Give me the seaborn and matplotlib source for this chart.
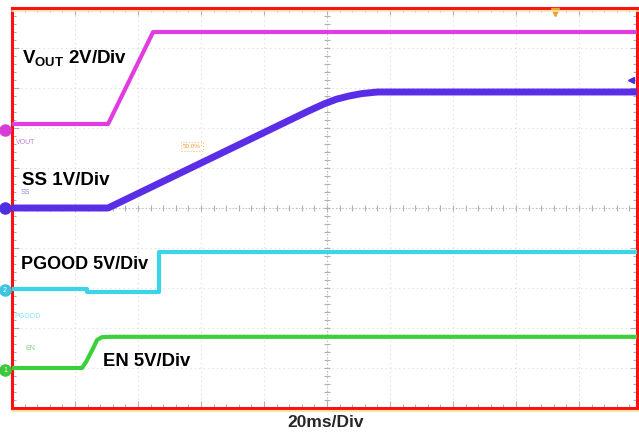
import numpy as np
import pandas as pd
import matplotlib
matplotlib.use("Agg")
import matplotlib.pyplot as plt
from matplotlib.lines import Line2D
from matplotlib.ticker import MultipleLocator
import seaborn as sns

# ---- data (time in ms, amplitude in screen divisions) ----
vout_t = [0, 30.5, 44.8, 198.4]
vout_v = [7.1, 7.1, 9.4, 9.4]

ss_t = [0, 30.5, 94.0, 99.0, 103.0, 107.0, 111.0, 116.0, 198.4]
ss_v = [5.0, 5.0, 7.42, 7.6, 7.72, 7.8, 7.86, 7.9, 7.9]

pgood_t = [0, 23.8, 23.8, 46.7, 46.7, 198.4]
pgood_v = [2.975, 2.975, 2.9, 2.9, 3.9, 3.9]

en_t = [0, 22.2, 23.5, 25.8, 27.0, 28.5, 31.0, 198.4]
en_v = [1.0, 1.0, 1.15, 1.5, 1.7, 1.77, 1.78, 1.78]

labels = ["$\\mathbf{V_{OUT}}$ 2V/Div", "SS 1V/Div", "PGOOD 5V/Div", "EN 5V/Div"]
xlabel = "20ms/Div"

sns.set_theme(style="white")
plt.rcParams["font.family"] = ["Liberation Sans", "DejaVu Sans"]
plt.rcParams["mathtext.fontset"] = "custom"
plt.rcParams["mathtext.bf"] = "Liberation Sans:bold"
plt.rcParams["mathtext.rm"] = "Liberation Sans"

fig = plt.figure(figsize=(6.39, 4.33), dpi=100)
ax = fig.add_axes([12 / 639, 25 / 433, 625 / 639, 400 / 433])
XMAX = 625 / 63 * 20
ax.set_xlim(0, XMAX)
ax.set_ylim(0, 10)
ax.set_facecolor("white")

# graticule
for gx in np.arange(20, XMAX, 20):
    ax.axvline(gx, color="#dadada", lw=0.8, ls=(0, (1, 3)), zorder=0)
for gy in np.arange(1, 10, 1):
    ax.axhline(gy, color="#dadada", lw=0.8, ls=(0, (1, 3)), zorder=0)
ax.axvline(100, color="#b8b8b8", lw=0.8, ls=(0, (1, 2)), zorder=0)
ax.axhline(5, color="#b8b8b8", lw=0.8, ls=(0, (1, 2)), zorder=0)
ax.plot(np.full(51, 100.0), np.arange(0, 10.01, 0.2), ls="none", marker="_",
        ms=4, mew=0.8, color="#b0b0b0", zorder=0)
xt = np.arange(0, XMAX, 4.0)
ax.plot(xt, np.full(len(xt), 5.0), ls="none", marker="|", ms=4, mew=0.8,
        color="#b0b0b0", zorder=0)

ax.xaxis.set_major_locator(MultipleLocator(20))
ax.xaxis.set_minor_locator(MultipleLocator(4))
ax.yaxis.set_major_locator(MultipleLocator(1))
ax.yaxis.set_minor_locator(MultipleLocator(0.2))
ax.tick_params(which="both", direction="in", top=True, bottom=True, left=True,
               right=True, labelbottom=False, labelleft=False, color="#b0b0b0")
ax.tick_params(which="major", length=5, width=0.8)
ax.tick_params(which="minor", length=3, width=0.8)

# traces
traces = [
    (vout_t, vout_v, "#e03ce0", 3.0),
    (ss_t, ss_v, "#5a2ee6", 5.0),
    (pgood_t, pgood_v, "#3cd4e8", 3.0),
    (en_t, en_v, "#3ccf3c", 3.0),
]
for t, v, c, lw in traces:
    df = pd.DataFrame({"t": t, "v": v})
    sns.lineplot(data=df, x="t", y="v", ax=ax, color=c, lw=lw, sort=False,
                 estimator=None, zorder=3)
ax.set_xlabel("")
ax.set_ylabel("")

# main labels
ax.text(3.17, 8.625, labels[0], fontsize=13.5, fontweight="bold", va="baseline", color="black", zorder=5)
ax.text(3.17, 5.575, labels[1], fontsize=13.5, fontweight="bold", va="baseline", color="black", zorder=5)
ax.text(2.86, 3.475, labels[2], fontsize=13.0, fontweight="bold", va="baseline", color="black", zorder=5)
ax.text(28.9, 1.05, labels[3], fontsize=13.3, fontweight="bold", va="baseline", color="black", zorder=5)
fig.text(326 / 639, 3 / 433, xlabel, fontsize=12.5, fontweight="bold", ha="center", va="bottom")

# small scope channel labels
ax.text(1.3, 6.6, "VOUT", fontsize=5, color="#c07ee0")
ax.text(2.9, 5.35, "SS", fontsize=5, color="#8a8ae6")
ax.text(0.6, 2.25, "PGOOD", fontsize=5, color="#86e2f0")
ax.text(4.2, 1.45, "EN", fontsize=5, color="#7fd27f")
ax.text(54.3, 6.5, "50.0%", fontsize=4.5, color="#f0a040",
        bbox=dict(boxstyle="square,pad=0.3", fc="none", ec="#f5c070", ls=":", lw=0.8))

# channel markers / trigger markers
for y, c, s in [(6.95, "#d83cd8", ""), (5.0, "#4a2ee0", ""), (2.95, "#3cc4e0", "2"), (0.95, "#3cc83c", "1")]:
    ax.plot([-2.2], [y], marker="o", ms=8, color=c, clip_on=False, zorder=6)
    if s:
        ax.text(-2.2, y, s, fontsize=5, color="white", ha="center", va="center", clip_on=False, zorder=7)
ax.plot([172.4], [9.9], marker="v", ms=6, color="#f0a030", clip_on=False, zorder=6)
ax.plot([196.5], [8.2], marker="<", ms=4, color="#4a2ee0", clip_on=False, zorder=6)

for sp in ax.spines.values():
    sp.set_color("#ff1010")
    sp.set_linewidth(2.2)
    sp.set_visible(True)

fig.add_artist(Line2D([12 / 639, 1], [1 - 10.5 / 433] * 2, color="#f3e6a8", lw=1.2))
fig.add_artist(Line2D([12 / 639, 1], [1 - 410.5 / 433] * 2, color="#f3e6a8", lw=1.5))

fig.savefig("out.png", dpi=100, facecolor="white")
